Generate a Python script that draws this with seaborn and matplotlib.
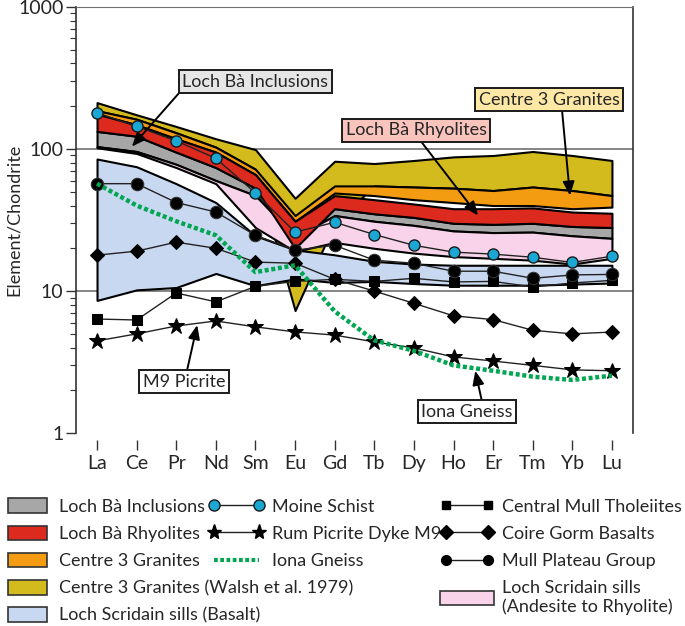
import numpy as np
import pandas as pd
import seaborn as sns
import matplotlib.pyplot as plt
from matplotlib.patches import Patch
from matplotlib.lines import Line2D
from matplotlib.ticker import FixedLocator, NullFormatter

ree = ['La', 'Ce', 'Pr', 'Nd', 'Sm', 'Eu', 'Gd', 'Tb', 'Dy', 'Ho', 'Er', 'Tm', 'Yb', 'Lu']

# envelopes (upper / lower), chondrite normalised
walsh_hi = [212, 174, 144, 118, 99, 45, 82, 79, 83, 88, 90, 96, 90, 83]
walsh_lo = [186, 162, 130, 103, 72, 7.3, 30, 55, 54, 53, 51, 54, 51, 47]
c3_hi = [186, 162, 130, 103, 72, 34, 55, 55, 54, 53, 51, 54, 51, 47]
c3_lo = [176, 148, 118, 95, 66, 31, 49, 47, 44, 42, 40, 40, 38, 39]
rhy_hi = [176, 148, 118, 95, 66, 31, 47, 44, 41, 38, 38, 38.5, 36, 35.3]
rhy_lo = [133, 123, 95, 74, 53, 20, 38, 35, 33, 30, 29.5, 30, 28.5, 28]
incl_hi = [133, 123, 95, 74, 53, 28, 38, 35, 33, 30, 29.5, 30, 28.5, 28]
incl_lo = [104, 96, 78, 60, 47, 24, 34, 31, 29, 26.5, 25.8, 26, 24.5, 23.5]
sill_hi = [104, 96, 78, 60, 47, 24, 34, 31, 29, 26.5, 25.8, 26, 24.5, 23.5]
sill_lo = [102, 93, 74, 57, 28, 19, 22, 20, 18.5, 17.5, 17, 16.5, 15.5, 17]
basalt_hi = [85, 75, 57, 42, 24.5, 19.5, 18, 16.2, 15.5, 15.2, 15.2, 15.2, 15.2, 15.2]
basalt_lo = [8.6, 10.2, 10.6, 13.3, 10.9, 12.2, 11.5, 11.7, 11.3, 11, 11, 11, 11.2, 11.4]

# single samples / averages
moine = [180, 144, 114, 86, 49, 26, 30.5, 25, 21, 18.8, 18.2, 17.3, 15.9, 17.6]
mull_plateau = [57, 57, 42, 36, 24.7, 19.4, 21, 16.5, 15.7, 13.8, 13.8, 12.3, 13, 13.1]
coire_gorm = [17.9, 19.1, 22.1, 20, 16, 15.7, 12.1, 10, 8.2, 6.7, 6.3, 5.3, 5.0, 5.15]
central_mull = [6.36, 6.26, 9.7, 8.4, 10.8, 11.7, 12.1, 11.7, 12.3, 11.6, 11.7, 10.7, 11.4, 11.9]
rum_m9 = [4.46, 5.0, 5.68, 6.16, 5.6, 5.16, 4.9, 4.39, 3.98, 3.44, 3.22, 3.0, 2.79, 2.75]
iona = [57, 40, 31, 24.7, 13.6, 15.2, 7.2, 4.5, 3.8, 3.0, 2.75, 2.5, 2.37, 2.54]

c_walsh = '#d4bb1d'
c_c3 = '#f39c12'
c_rhy = '#dc2a1f'
c_incl = '#a7a7a7'
c_sill = '#f9d3e9'
c_basalt = '#c9d8f1'
c_moine = '#1aa7d3'
c_iona = '#00a651'

sns.set_style('ticks')
plt.rcParams['font.family'] = ['Lato', 'DejaVu Sans']
fs = 13

x = np.arange(len(ree))
df = pd.DataFrame({'x': x, 'moine': moine, 'mull': mull_plateau, 'coire': coire_gorm,
                   'central': central_mull, 'rum': rum_m9, 'iona': iona})

fig = plt.figure(figsize=(6.85, 6.26), dpi=100)
ax = fig.add_axes([0.111, 0.308, 0.813, 0.681])

for v in [10, 100, 1000]:
    ax.axhline(v, color='#707070', lw=1.2, zorder=0)

bands = [(walsh_hi, walsh_lo, c_walsh, 1), (c3_hi, c3_lo, c_c3, 2),
         (incl_hi, incl_lo, c_incl, 3), (sill_hi, sill_lo, c_sill, 4),
         (rhy_hi, rhy_lo, c_rhy, 5), (basalt_hi, basalt_lo, c_basalt, 6)]
for hi, lo, col, z in bands:
    ax.fill_between(x, lo, hi, facecolor=col, edgecolor='black', lw=1.5, zorder=z)

line_kw = dict(color='#222222', lw=1.0, zorder=10, legend=False)
sns.lineplot(data=df, x='x', y='central', marker='s', markersize=7, mfc='black', mec='black', ax=ax, **line_kw)
sns.lineplot(data=df, x='x', y='rum', marker='*', markersize=12, mfc='black', mec='black', ax=ax, **line_kw)
sns.lineplot(data=df, x='x', y='coire', marker='D', markersize=7.5, mfc='black', mec='black', ax=ax, **line_kw)
sns.lineplot(data=df, x='x', y='iona', color=c_iona, lw=3.2, linestyle=(0, (0.9, 0.6)), zorder=11, legend=False, ax=ax)
sns.lineplot(data=df, x='x', y='mull', marker='o', markersize=9, mfc='black', mec='#333333', ax=ax, **line_kw)
sns.lineplot(data=df, x='x', y='moine', marker='o', markersize=8, mfc=c_moine, mec='#1a1a1a', mew=1.0, ax=ax, **line_kw)

ax.set_yscale('log')
ax.set_ylim(1, 1000)
ax.set_xlim(-0.53, 13.53)
ax.set_xticks(x)
ax.set_xticklabels(ree)
ax.yaxis.set_major_locator(FixedLocator([1, 10, 100, 1000]))
ax.set_yticklabels(['1', '10', '100', '1000'])
minors = [m * 10 ** d for d in range(3) for m in range(2, 10)]
ax.yaxis.set_minor_locator(FixedLocator(minors))
ax.yaxis.set_minor_formatter(NullFormatter())
ax.tick_params(axis='both', which='major', labelsize=fs + 1)
ax.tick_params(axis='y', which='major', length=7, width=1.0, color='#333333', pad=2)
ax.tick_params(axis='y', which='minor', length=4, width=0.8, color='#333333')
ax.tick_params(axis='x', length=7, width=1.0, color='#333333', pad=4)
ax.set_xlabel('')
ax.set_ylabel('Element/Chondrite', fontsize=fs)
ax.yaxis.set_label_coords(-0.098, 0.5)
ax.spines['bottom'].set_position(('outward', 5))
ax.spines['bottom'].set_color('none')
ax.spines['top'].set_color('#707070')
for s in ['left', 'right']:
    ax.spines[s].set_color('#333333')
    ax.spines[s].set_linewidth(1.2)

# callouts
arrow = dict(arrowstyle='-|>,head_length=0.6,head_width=0.25', color='black', lw=1.4,
             mutation_scale=14, shrinkA=0, shrinkB=0)
callouts = [
    ('Loch Bà Inclusions', (4.0, 298), '#e6e6e6', (2.1, 253), (0.88, 104)),
    ('Loch Bà Rhyolites', (8.06, 135), '#f8c4bc', (8.16, 115), (9.62, 34)),
    ('Centre 3 Granites', (11.41, 222), '#fde8a6', (11.74, 187), (11.94, 47)),
    ('M9 Picrite', (2.2, 2.3), 'white', (2.27, 2.75), (2.53, 5.77)),
    ('Iona Gneiss', (9.34, 1.42), 'white', (9.72, 1.66), (9.55, 2.75)),
]
for label, pos, fc, start, tip in callouts:
    ax.annotate('', xy=tip, xytext=start, arrowprops=arrow, zorder=20)
    ax.text(pos[0], pos[1], label, fontsize=fs, ha='center', va='center', zorder=21,
            bbox=dict(boxstyle='square,pad=0.2', fc=fc, ec='#1a1a1a', lw=1.4))

# legend, three blocks
def patch(c):
    return Patch(facecolor=c, edgecolor='#333333', lw=1.2)

leg_kw = dict(frameon=False, fontsize=fs, loc='upper left', borderpad=0, borderaxespad=0,
              labelspacing=0.6, handleheight=0.85, numpoints=2)
h1 = [patch(c_incl), patch(c_rhy), patch(c_c3), patch(c_walsh), patch(c_basalt)]
l1 = ['Loch Bà Inclusions', 'Loch Bà Rhyolites', 'Centre 3 Granites',
      'Centre 3 Granites (Walsh et al. 1979)', 'Loch Scridain sills (Basalt)']
fig.legend(h1, l1, bbox_to_anchor=(0.012, 0.204), handlelength=2.15, handletextpad=0.67, **leg_kw)

h2 = [Line2D([], [], color='#222222', lw=1, marker='o', ms=8, mfc=c_moine, mec='#1a1a1a'),
      Line2D([], [], color='#222222', lw=1, marker='*', ms=11, mfc='black', mec='black'),
      Line2D([], [], color=c_iona, lw=3, linestyle=(0, (0.9, 0.6)))]
l2 = ['Moine Schist', 'Rum Picrite Dyke M9', 'Iona Gneiss']
fig.legend(h2, l2, bbox_to_anchor=(0.304, 0.204), handlelength=3.1, handletextpad=0.45, **leg_kw)

h3 = [Line2D([], [], color='#222222', lw=1, marker='s', ms=6, mfc='black', mec='black'),
      Line2D([], [], color='#222222', lw=1, marker='D', ms=7, mfc='black', mec='black'),
      Line2D([], [], color='#222222', lw=1, marker='o', ms=7, mfc='black', mec='black'),
      patch(c_sill)]
l3 = ['Central Mull Tholeiites', 'Coire Gorm Basalts', 'Mull Plateau Group',
      'Loch Scridain sills\n(Andesite to Rhyolite)']
fig.legend(h3, l3, bbox_to_anchor=(0.643, 0.204), handlelength=2.95, handletextpad=0.45, **leg_kw)

fig.savefig('out.png', dpi=100)
